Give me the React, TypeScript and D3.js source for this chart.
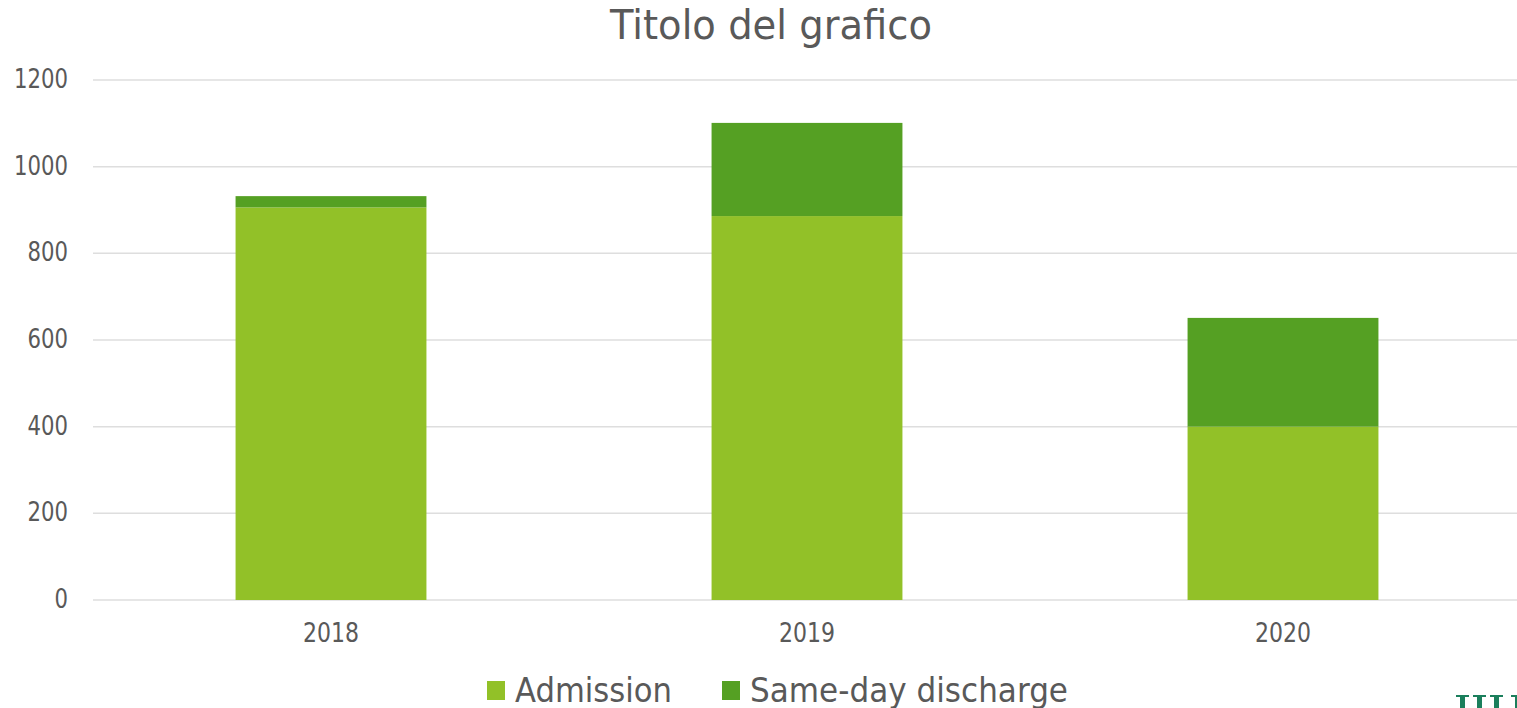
import * as d3 from 'd3'
import React, { useEffect, useRef } from 'react'

// values
const years = ['2018', '2019', '2020'];
const admission = [906, 886, 400];
const sameDay = [26, 215, 251];
const seriesNames = ['Admission', 'Same-day discharge'];
const yTicks = [0, 200, 400, 600, 800, 1000, 1200];

const W = 1517;
const H = 708;
const colors = ['#92C128', '#55A023'];
const textColor = '#595959';
const font = '"DejaVu Sans", sans-serif';

const App: React.FC = () => {
    const ref = useRef<SVGSVGElement>(null);

    useEffect(() => {
        document.body.style.margin = '0';
        if (!ref.current) return;
        const svg = d3.select(ref.current);
        svg.selectAll('*').remove();

        const x = d3.scaleBand<string>()
            .domain(years)
            .range([93, 1521])
            .paddingInner(0.599)
            .paddingOuter(0.2995);
        const y = d3.scaleLinear().domain([0, 1200]).range([600, 80]);

        // gridlines
        svg.append('g')
            .selectAll('line')
            .data(yTicks)
            .enter()
            .append('line')
            .attr('x1', 93)
            .attr('x2', W)
            .attr('y1', d => y(d))
            .attr('y2', d => y(d))
            .attr('stroke', '#dedede')
            .attr('stroke-width', 1.5);

        // y tick labels
        svg.append('g')
            .attr('font-family', font)
            .attr('font-size', 26)
            .attr('fill', textColor)
            .attr('text-anchor', 'end')
            .selectAll('text')
            .data(yTicks)
            .enter()
            .append('text')
            .attr('x', 68)
            .attr('y', d => y(d) + 8)
            .attr('textLength', d => String(d).length * 13.5)
            .attr('lengthAdjust', 'spacingAndGlyphs')
            .text(d => String(d));

        // stacked bars
        const rows = years.map((yr, i) => ({ year: yr, a: admission[i], s: sameDay[i] }));
        const stack = d3.stack<{ year: string; a: number; s: number }>().keys(['a', 's']);
        const layers = stack(rows);

        svg.append('g')
            .selectAll('g')
            .data(layers)
            .enter()
            .append('g')
            .attr('fill', (_, i) => colors[i])
            .selectAll('rect')
            .data(d => d)
            .enter()
            .append('rect')
            .attr('x', d => x(d.data.year)!)
            .attr('width', x.bandwidth())
            .attr('y', d => y(d[1]))
            .attr('height', d => y(d[0]) - y(d[1]));

        // x labels
        svg.append('g')
            .attr('font-family', font)
            .attr('font-size', 26)
            .attr('fill', textColor)
            .attr('text-anchor', 'middle')
            .selectAll('text')
            .data(years)
            .enter()
            .append('text')
            .attr('x', d => x(d)! + x.bandwidth() / 2)
            .attr('y', 642)
            .attr('textLength', 56)
            .attr('lengthAdjust', 'spacingAndGlyphs')
            .text(d => d);

        // title
        svg.append('text')
            .attr('x', 771)
            .attr('y', 39)
            .attr('text-anchor', 'middle')
            .attr('font-family', font)
            .attr('font-size', 40)
            .attr('fill', textColor)
            .attr('textLength', 322)
            .attr('lengthAdjust', 'spacingAndGlyphs')
            .text('Titolo del grafico');

        // legend
        const legendX = [487, 722];
        const legendW = [157, 318];
        const legend = svg.append('g')
            .selectAll('g')
            .data(seriesNames)
            .enter()
            .append('g')
            .attr('transform', (_, i) => `translate(${legendX[i]},0)`);
        legend.append('rect')
            .attr('x', 0)
            .attr('y', 681)
            .attr('width', 18)
            .attr('height', 19)
            .attr('fill', (_, i) => colors[i]);
        legend.append('text')
            .attr('x', 28)
            .attr('y', 702)
            .attr('font-family', font)
            .attr('font-size', 34)
            .attr('fill', textColor)
            .attr('textLength', (_, i) => legendW[i])
            .attr('lengthAdjust', 'spacingAndGlyphs')
            .text(d => d);

        // cropped logo in the corner
        const logo = svg.append('g').attr('fill', '#1B7F5C');
        [1456, 1473, 1490, 1511].forEach(lx => {
            logo.append('rect').attr('x', lx).attr('y', 695).attr('width', 13).attr('height', 2);
            logo.append('rect').attr('x', lx + 4).attr('y', 695).attr('width', 5).attr('height', 13);
        });
    }, []);

    return <svg ref={ref} width={W} height={H} style={{ display: 'block', background: '#fff' }} />;
};

export default App;
